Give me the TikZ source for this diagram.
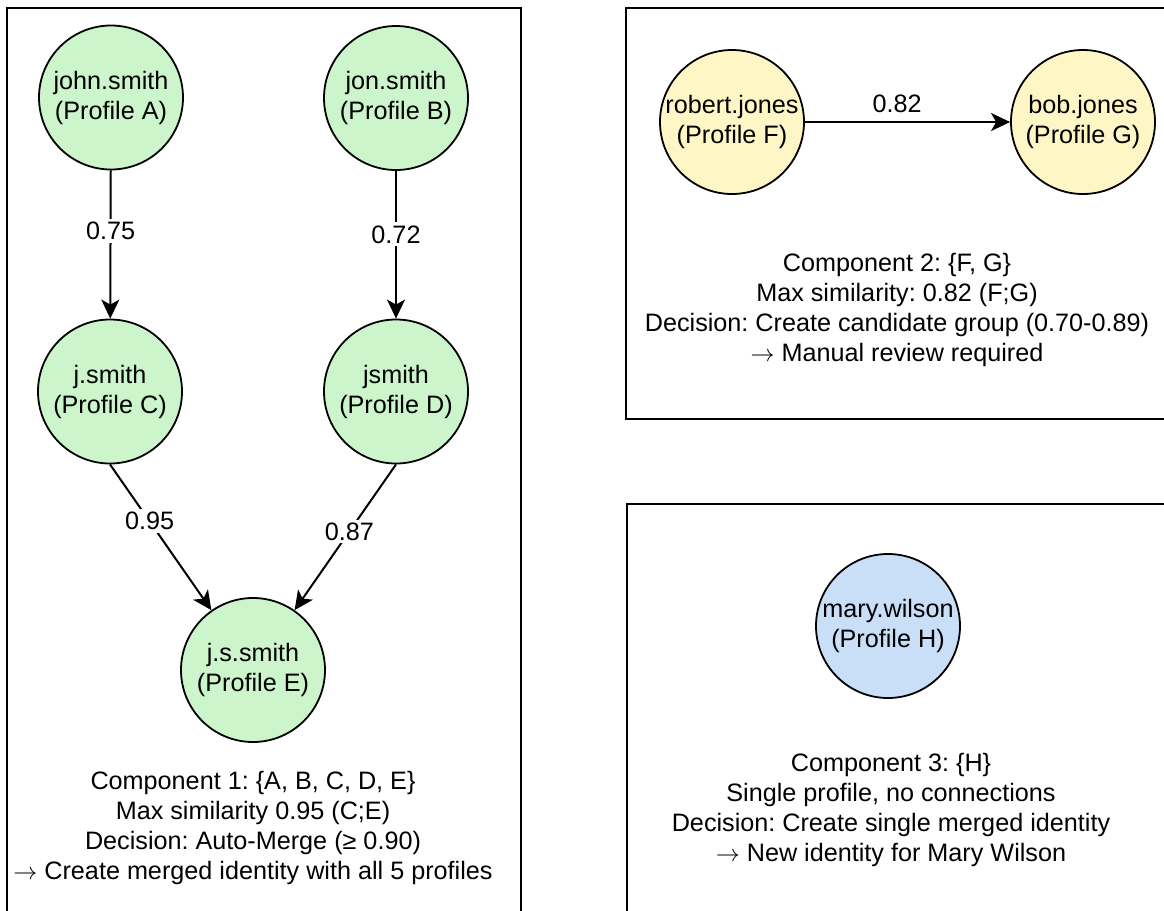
\documentclass[tikz,border=0pt]{standalone}
\usepackage{fontspec}
\setmainfont{Liberation Sans}
\usetikzlibrary{arrows.meta}
\definecolor{profgreen}{HTML}{CCF5CC}
\definecolor{profyellow}{HTML}{FFF6C6}
\definecolor{profblue}{HTML}{C9DEF7}
\frenchspacing
\begin{document}
\begin{tikzpicture}[x=0.5pt,y=-0.5pt,
  txt/.style={font=\fontsize{12.6pt}{15pt}\selectfont},
  profile/.style={circle, draw=black, line width=0.9pt, minimum size=72pt,
    inner sep=0pt, align=center, txt},
  simedge/.style={line width=1pt, -{Stealth[length=9.5pt,width=9pt,inset=2.5pt]}},
  weight/.style={fill=white, inner sep=1.5pt, txt},
  panel/.style={draw=black, line width=1.2pt},
  summary/.style={align=center, txt}]
\useasboundingbox (0,0) rectangle (1164,911);
\clip (0,0) rectangle (1164,911);

% panels
\draw[panel] (7,8) rectangle (521,960);
\draw[panel] (626,8) rectangle (1200,419);
\draw[panel] (627,504) rectangle (1200,960);

% component 1
\node[profile, fill=profgreen] (A) at (111,97.5) {john.smith\\(Profile A)};
\node[profile, fill=profgreen] (B) at (396,98) {jon.smith\\(Profile B)};
\node[profile, fill=profgreen] (C) at (110,391.5) {j.smith\\(Profile C)};
\node[profile, fill=profgreen] (D) at (396,391.5) {jsmith\\(Profile D)};
\node[profile, fill=profgreen] (E) at (253,670) {j.s.smith\\(Profile E)};

\draw[simedge] (A) -- node[weight, pos=0.41] {0.75} (C);
\draw[simedge] (B) -- node[weight, pos=0.43] {0.72} (D);
\draw[simedge] (C.south) -- node[weight, pos=0.39] {0.95} (E);
\draw[simedge] (D.south) -- node[weight, pos=0.46] {0.87} (E);

\node[summary] (S1) at (253,828) {Component 1: \{A, B, C, D, E\}\\Max similarity 0.95 (C;E)\\Decision: Auto-Merge (≥ 0.90)\\$\rightarrow$ Create merged identity with all 5 profiles};

% component 2
\node[profile, fill=profyellow] (F) at (732,122) {robert.jones\\(Profile F)};
\node[profile, fill=profyellow] (G) at (1083,122) {bob.jones\\(Profile G)};
\draw[simedge] (F) -- node[txt, above, pos=0.45, yshift=1pt] {0.82} (G);

\node[summary] (S2) at (897,310) {Component 2: \{F, G\}\\Max similarity: 0.82 (F;G)\\Decision: Create candidate group (0.70-0.89)\\$\rightarrow$ Manual review required};

% component 3
\node[profile, fill=profblue] (H) at (888,626) {mary.wilson\\(Profile H)};

\node[summary] (S3) at (891,810) {Component 3: \{H\}\\Single profile, no connections\\Decision: Create single merged identity\\$\rightarrow$ New identity for Mary Wilson};
\end{tikzpicture}
\end{document}
